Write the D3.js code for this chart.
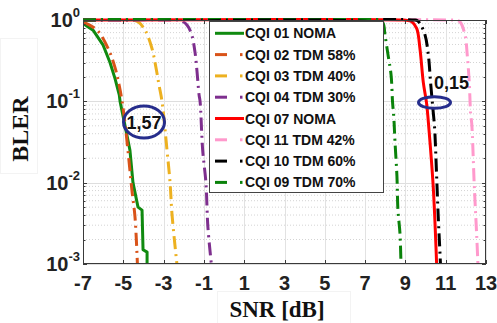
<!DOCTYPE html>
<html><head><meta charset="utf-8">
<script src="https://cdn.jsdelivr.net/npm/d3@7"></script>
<style>body{margin:0;background:#fff}svg{display:block}</style>
</head><body>
<script>
// ---- data ----
const seriesLabels = ["CQI 01 NOMA","CQI 02 TDM 58%","CQI 03 TDM 40%","CQI 04 TDM 30%","CQI 07 NOMA","CQI 11 TDM 42%","CQI 10 TDM 60%","CQI 09 TDM 70%"];
const seriesColors = ["#108a10","#d95319","#edb120","#7e2f8e","#ff0000","#ff99cc","#000000","#0a820a"];
const seriesDashed = [false,true,true,true,false,true,true,true];

const snrCqi01 = [-7,-6.5,-6.0,-5.66,-5.41,-5.2,-5.16,-4.92,-4.67,-4.52,-4.27,-4.07,-4.02,-3.82,-3.82];
const blerCqi01 = [0.91,0.75,0.49,0.30,0.19,0.12,0.1,0.051,0.025,0.01,0.005,0.0046,0.0015,0.0014,0.001];
const snrCqi02 = [-7,-6.3,-5.76,-5.41,-5.21,-5.06,-4.9,-4.77,-4.57,-4.42,-4.3];
const blerCqi02 = [0.95,0.75,0.45,0.26,0.16,0.1,0.05,0.025,0.008,0.0038,0.001];
const snrCqi03 = [-7,-4.6,-4.27,-3.92,-3.58,-3.38,-3.23,-3.08,-2.83,-2.68,-2.58,-2.34];
const blerCqi03 = [1,1,0.95,0.75,0.45,0.26,0.16,0.1,0.025,0.01,0.004,0.001];
const snrCqi04 = [-7,-2.6,-2.19,-1.84,-1.6,-1.44,-1.34,-1.24,-1.19,-1.06,-0.9,-0.8,-0.63];
const blerCqi04 = [1,1,0.99,0.87,0.65,0.4,0.23,0.12,0.1,0.025,0.01,0.0028,0.001];
const snrCqi07 = [-7,8.9,9.06,9.3,9.56,9.72,9.89,10.05,10.17,10.38,10.55];
const blerCqi07 = [1,1,0.99,0.96,0.79,0.45,0.17,0.095,0.045,0.009,0.001];
const snrCqi11 = [-7,11.2,11.5,11.71,11.96,12.07,12.17,12.24,12.29,12.42,12.54,12.6];
const blerCqi11 = [1,1,0.99,0.95,0.65,0.37,0.17,0.068,0.054,0.009,0.0022,0.001];
const snrCqi10 = [-7,9.45,9.6,9.72,9.97,10.14,10.25,10.38,10.45,10.55,10.63,10.72,10.74];
const blerCqi10 = [1,1,0.98,0.91,0.66,0.37,0.17,0.074,0.047,0.012,0.0038,0.0013,0.001];
const snrCqi09 = [-7,7.7,7.89,7.99,8.14,8.29,8.36,8.43,8.48,8.58,8.63,8.73,8.78];
const blerCqi09 = [1,1,0.92,0.65,0.37,0.21,0.1,0.06,0.033,0.012,0.0046,0.0024,0.001];

const xTickValues = [-7,-5,-3,-1,1,3,5,7,9,11,13];
const yTickExponents = [0,-1,-2,-3];
const annotationTexts = ["1,57","0,15"];

const seriesSnr = [snrCqi01,snrCqi02,snrCqi03,snrCqi04,snrCqi07,snrCqi11,snrCqi10,snrCqi09];
const seriesBler = [blerCqi01,blerCqi02,blerCqi03,blerCqi04,blerCqi07,blerCqi11,blerCqi10,blerCqi09];

// ---- layout ----
const W = 497, H = 323;
const L = 83, T = 20, R = 486, B = 264;
const sans = "'Liberation Sans', Arial, sans-serif";
const serif = "'Liberation Serif', 'Times New Roman', serif";

const svg = d3.select("body").append("svg").attr("width", W).attr("height", H);
svg.append("rect").attr("width", W).attr("height", H).attr("fill", "#fff");

const x = d3.scaleLinear().domain([-7, 13]).range([L, R]);
const y = d3.scaleLog().domain([1e-3, 1]).range([B, T]);

// faint label boxes
svg.append("rect").attr("x", 0.5).attr("y", 38.5).attr("width", 37).attr("height", 135)
  .attr("fill", "none").attr("stroke", "#f3f3f3");
svg.append("rect").attr("x", 217.5).attr("y", 291.5).attr("width", 133).attr("height", 40)
  .attr("fill", "none").attr("stroke", "#f3f3f3");

// grid
const grid = svg.append("g");
const minorVals = [];
for (let e = -3; e < 0; e++) for (let k = 2; k <= 9; k++) minorVals.push(k * Math.pow(10, e));
grid.selectAll("line.minor").data(minorVals).join("line")
  .attr("x1", L).attr("x2", R).attr("y1", d => y(d)).attr("y2", d => y(d))
  .attr("stroke", "#d4d4d4").attr("stroke-width", 1).attr("stroke-dasharray", "1,2");
grid.selectAll("line.majy").data(yTickExponents.map(e => Math.pow(10, e))).join("line")
  .attr("x1", L).attr("x2", R).attr("y1", d => Math.round(y(d)) + 0.5).attr("y2", d => Math.round(y(d)) + 0.5)
  .attr("stroke", "#dedede").attr("stroke-width", 1);
svg.append("g").selectAll("line").data(xTickValues).join("line")
  .attr("x1", d => Math.round(x(d)) + 0.5).attr("x2", d => Math.round(x(d)) + 0.5).attr("y1", T).attr("y2", B)
  .attr("stroke", "#e2e2e2").attr("stroke-width", 1);

// curves
svg.append("clipPath").attr("id", "clip").append("rect")
  .attr("x", L).attr("y", T - 2).attr("width", R - L).attr("height", B - T + 2);
const smoothLine = d3.line().x(d => x(d[0])).y(d => y(d[1])).curve(d3.curveCatmullRom.alpha(0.5));
const straightLine = d3.line().x(d => x(d[0])).y(d => y(d[1]));
const curves = svg.append("g").attr("clip-path", "url(#clip)");
seriesLabels.forEach((lab, i) => {
  const pts = seriesSnr[i].map((s, j) => [s, seriesBler[i][j]]);
  const gen = i === 0 ? straightLine : smoothLine;
  curves.append("path").attr("d", gen(pts)).attr("fill", "none")
    .attr("stroke", seriesColors[i]).attr("stroke-width", 3).attr("stroke-linejoin", "round")
    .attr("stroke-dasharray", seriesDashed[i] ? "13,5,2,5" : null);
});

// axes box & ticks
const axisColor = "#3a3a3a";
const axes = svg.append("g");
axes.append("rect").attr("x", L + 0.5).attr("y", T + 0.5).attr("width", R - L - 1).attr("height", B - T - 1)
  .attr("fill", "none").attr("stroke", axisColor).attr("stroke-width", 1);
xTickValues.forEach(v => {
  const px = Math.round(x(v)) + 0.5;
  axes.append("line").attr("x1", px).attr("x2", px).attr("y1", B).attr("y2", B - 4).attr("stroke", axisColor);
  axes.append("line").attr("x1", px).attr("x2", px).attr("y1", T).attr("y2", T + 4).attr("stroke", axisColor);
});
minorVals.forEach(v => {
  const py = Math.round(y(v)) + 0.5;
  axes.append("line").attr("x1", L).attr("x2", L + 2.5).attr("y1", py).attr("y2", py).attr("stroke", axisColor);
  axes.append("line").attr("x1", R).attr("x2", R - 2.5).attr("y1", py).attr("y2", py).attr("stroke", axisColor);
});
yTickExponents.forEach(e => {
  const py = Math.round(y(Math.pow(10, e))) + 0.5;
  axes.append("line").attr("x1", L).attr("x2", L + 4).attr("y1", py).attr("y2", py).attr("stroke", axisColor);
  axes.append("line").attr("x1", R).attr("x2", R - 4).attr("y1", py).attr("y2", py).attr("stroke", axisColor);
});

// tick labels
svg.append("g").selectAll("text").data(xTickValues).join("text")
  .attr("x", d => x(d)).attr("y", 290).attr("text-anchor", "middle")
  .attr("font-family", sans).attr("font-weight", "bold").attr("font-size", 20).attr("fill", "#222")
  .text(d => d < 0 ? "-" + Math.abs(d) : d);
yTickExponents.forEach(e => {
  const t = svg.append("text").attr("x", 80).attr("y", y(Math.pow(10, e)) + 7)
    .attr("text-anchor", "end").attr("font-family", sans).attr("font-weight", "bold").attr("fill", "#222");
  t.append("tspan").attr("font-size", 20).text("10");
  t.append("tspan").attr("font-size", 13).attr("dy", -10).text(e === 0 ? "0" : "-" + Math.abs(e));
});

// axis titles
svg.append("text").attr("x", 277).attr("y", 317).attr("text-anchor", "middle")
  .attr("font-family", serif).attr("font-weight", "bold").attr("font-size", 23).attr("fill", "#111")
  .text("SNR [dB]");
svg.append("text").attr("transform", "translate(28,129) rotate(-90)").attr("text-anchor", "middle")
  .attr("font-family", serif).attr("font-weight", "bold").attr("font-size", 24).attr("fill", "#111")
  .text("BLER");

// legend
const lg = svg.append("g");
lg.append("rect").attr("x", 209.5).attr("y", 21.5).attr("width", 174).attr("height", 171)
  .attr("fill", "#fff").attr("stroke", "#444").attr("stroke-width", 1);
seriesLabels.forEach((lab, i) => {
  const ry = 33.3 + i * 21.3;
  if (seriesDashed[i]) {
    lg.append("line").attr("x1", 215).attr("x2", 227).attr("y1", ry).attr("y2", ry)
      .attr("stroke", seriesColors[i]).attr("stroke-width", 3);
    lg.append("line").attr("x1", 240).attr("x2", 242.5).attr("y1", ry).attr("y2", ry)
      .attr("stroke", seriesColors[i]).attr("stroke-width", 3);
  } else {
    lg.append("line").attr("x1", 215).attr("x2", 244).attr("y1", ry).attr("y2", ry)
      .attr("stroke", seriesColors[i]).attr("stroke-width", 3);
  }
  lg.append("text").attr("x", 245).attr("y", ry + 5).attr("font-family", sans)
    .attr("font-weight", "bold").attr("font-size", 14).attr("fill", "#111").text(lab);
});

// annotations
const navy = "#262d8c";
svg.append("ellipse").attr("cx", 144).attr("cy", 122).attr("rx", 20.5).attr("ry", 16)
  .attr("fill", "none").attr("stroke", navy).attr("stroke-width", 3);
svg.append("text").attr("x", 144).attr("y", 128.5).attr("text-anchor", "middle")
  .attr("font-family", sans).attr("font-weight", "bold").attr("font-size", 18).attr("fill", "#111")
  .text(annotationTexts[0]);
svg.append("ellipse").attr("cx", 434.5).attr("cy", 102.5).attr("rx", 16).attr("ry", 5.8)
  .attr("fill", "none").attr("stroke", navy).attr("stroke-width", 3);
svg.append("text").attr("x", 434).attr("y", 88.5)
  .attr("font-family", sans).attr("font-weight", "bold").attr("font-size", 18).attr("fill", "#111")
  .text(annotationTexts[1]);
</script>
</body></html>
